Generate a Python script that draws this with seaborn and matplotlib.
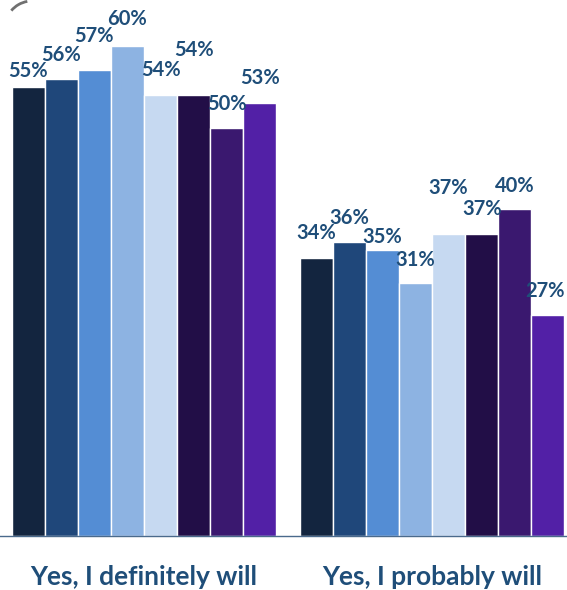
import matplotlib
matplotlib.use('Agg')
import matplotlib.pyplot as plt
import matplotlib.transforms as mtransforms
from matplotlib.patches import Arc
import pandas as pd
import seaborn as sns

# Chart data
responses = ['Yes, I definitely will', 'Yes, I probably will']
segments = ['Segment 1', 'Segment 2', 'Segment 3', 'Segment 4',
            'Segment 5', 'Segment 6', 'Segment 7', 'Segment 8']
definitely = [55, 56, 57, 60, 54, 54, 50, 53]
probably = [34, 36, 35, 31, 37, 37, 40, 27]

colors = ['#13253F', '#1F477A', '#548DD4', '#8DB3E2',
          '#C6D9F1', '#220E47', '#3A186F', '#5220A6']

# label centre height above bar top, in pixels (labels were hand placed)
label_offsets = [[16, 25], [24, 24], [34, 13], [27, 23],
                 [25, 46], [45, 25], [24, 23], [25, 24]]

TEXT_COLOR = '#1F4E79'
AXIS_COLOR = '#4A6A8C'

rows = []
for i, seg in enumerate(segments):
    rows.append({'Response': responses[0], 'Segment': seg, 'Pct': definitely[i]})
    rows.append({'Response': responses[1], 'Segment': seg, 'Pct': probably[i]})
df = pd.DataFrame(rows)

sns.set_style('white')
plt.rcParams['font.family'] = ['Lato', 'DejaVu Sans']

fig = plt.figure(figsize=(5.67, 5.90), dpi=100)
ax = fig.add_axes([0, 54 / 590, 1, 531 / 590])

sns.barplot(data=df, x='Response', y='Pct', hue='Segment', order=responses,
            hue_order=segments, palette=colors, width=0.92, edgecolor='white',
            linewidth=1, saturation=1, legend=False, ax=ax)

n = len(ax.containers)
for i, container in enumerate(ax.containers):
    for j, bar in enumerate(container):
        val = bar.get_height()
        # keep the last label inside the (cropped) right edge
        dx = -3 if (i == n - 1 and j == len(container) - 1) else 0
        ax.annotate(f"{val:.0f}%", (bar.get_x() + bar.get_width() / 2, val),
                    xytext=(dx, label_offsets[i][j]), textcoords='offset pixels',
                    ha='center', va='center', fontsize=14.5, fontweight='bold',
                    color=TEXT_COLOR)

ax.set_yticks([])
ax.set_xlabel('')
ax.set_ylabel('')
for s in ['top', 'right', 'left']:
    ax.spines[s].set_visible(False)
ax.spines['bottom'].set_color(AXIS_COLOR)
ax.spines['bottom'].set_linewidth(1)

ax.set_xticks([0, 1])
ax.set_xticklabels(responses, fontsize=19, fontweight='bold', color=TEXT_COLOR)
ax.tick_params(axis='x', which='major', length=0, pad=21)
ax.set_xticks([-0.5, 0.5], minor=True)
ax.tick_params(axis='x', which='minor', length=6.5, width=1, color=AXIS_COLOR)

# plot is cut off on the right, like the original
ax.set_xlim(-0.5, -0.5 + 567 / 288)
ax.set_ylim(0, 65)

# corner of the outer rounded frame, cropped
fig.add_artist(Arc((32, 562), 54, 54, theta1=100, theta2=140, color='#707070',
                   lw=2, transform=mtransforms.IdentityTransform()))

fig.savefig('out.png', dpi=100)
